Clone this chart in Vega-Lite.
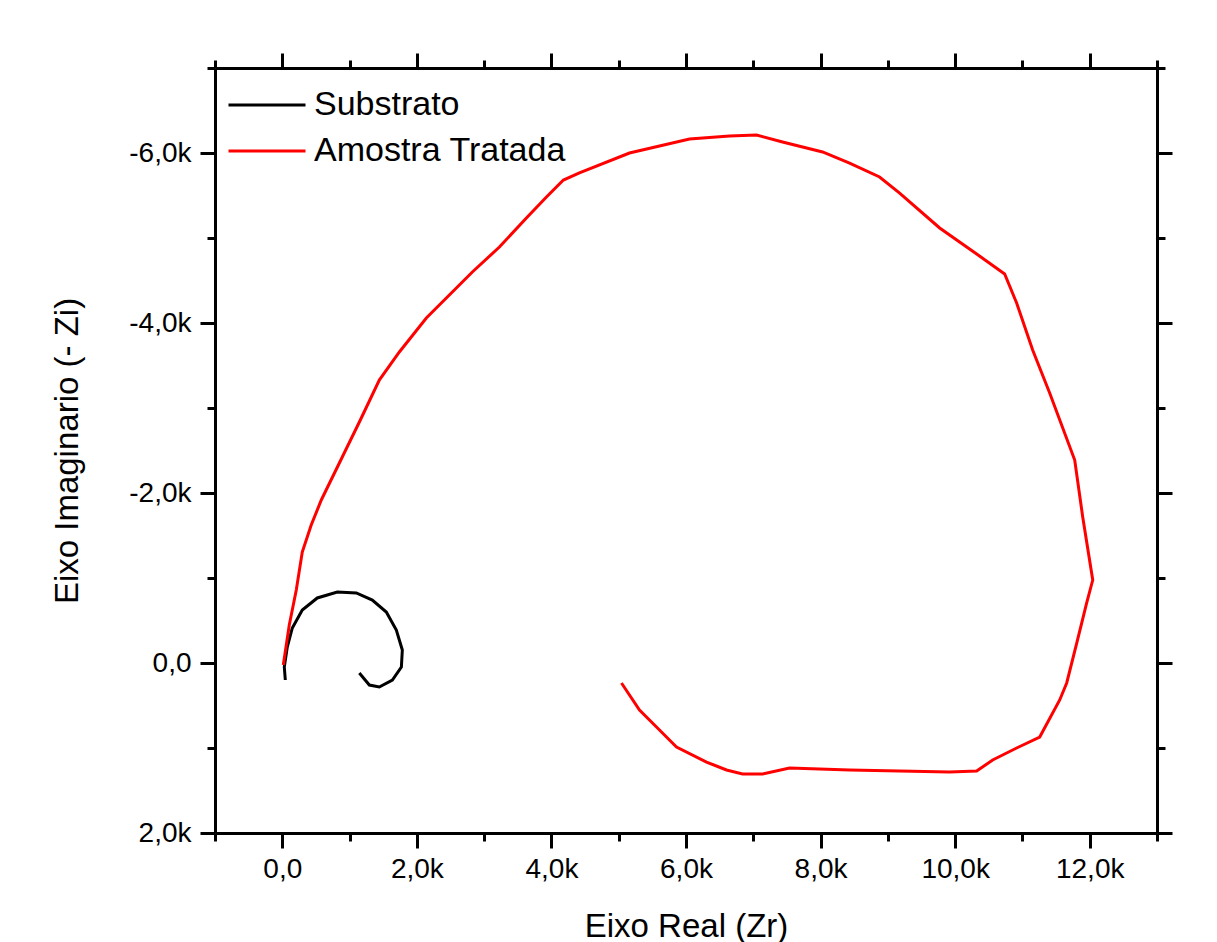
{
  "$schema": "https://vega.github.io/schema/vega-lite/v6.json",
  "autosize": "none",
  "width": 942,
  "height": 765,
  "padding": {"left": 215, "top": 68, "right": 60, "bottom": 109},
  "background": "white",
  "config": {
    "view": {"stroke": null},
    "font": "Liberation Sans",
    "axis": {
      "grid": false,
      "domainColor": "black",
      "domainWidth": 3,
      "tickColor": "black",
      "tickWidth": 3,
      "labelColor": "black",
      "labelFont": "Liberation Sans",
      "labelFontSize": 28,
      "titleFont": "Liberation Sans",
      "titleFontSize": 33,
      "titleFontWeight": "normal",
      "titleColor": "black"
    }
  },
  "data": {
    "values": [
      {"s": "Substrato", "i": 1, "zr": 45, "zi": 200},
      {"s": "Substrato", "i": 2, "zr": 30, "zi": 47},
      {"s": "Substrato", "i": 3, "zr": 74, "zi": -188},
      {"s": "Substrato", "i": 4, "zr": 149, "zi": -412},
      {"s": "Substrato", "i": 5, "zr": 297, "zi": -624},
      {"s": "Substrato", "i": 6, "zr": 520, "zi": -765},
      {"s": "Substrato", "i": 7, "zr": 818, "zi": -835},
      {"s": "Substrato", "i": 8, "zr": 1100, "zi": -824},
      {"s": "Substrato", "i": 9, "zr": 1338, "zi": -741},
      {"s": "Substrato", "i": 10, "zr": 1546, "zi": -600},
      {"s": "Substrato", "i": 11, "zr": 1695, "zi": -388},
      {"s": "Substrato", "i": 12, "zr": 1784, "zi": -153},
      {"s": "Substrato", "i": 13, "zr": 1770, "zi": 47},
      {"s": "Substrato", "i": 14, "zr": 1636, "zi": 200},
      {"s": "Substrato", "i": 15, "zr": 1442, "zi": 282},
      {"s": "Substrato", "i": 16, "zr": 1294, "zi": 259},
      {"s": "Substrato", "i": 17, "zr": 1145, "zi": 118},
      {"s": "Amostra Tratada", "i": 1, "zr": 15, "zi": 24},
      {"s": "Amostra Tratada", "i": 2, "zr": 104, "zi": -447},
      {"s": "Amostra Tratada", "i": 3, "zr": 208, "zi": -859},
      {"s": "Amostra Tratada", "i": 4, "zr": 297, "zi": -1306},
      {"s": "Amostra Tratada", "i": 5, "zr": 430, "zi": -1624},
      {"s": "Amostra Tratada", "i": 6, "zr": 580, "zi": -1918},
      {"s": "Amostra Tratada", "i": 7, "zr": 870, "zi": -2388},
      {"s": "Amostra Tratada", "i": 8, "zr": 1160, "zi": -2859},
      {"s": "Amostra Tratada", "i": 9, "zr": 1442, "zi": -3329},
      {"s": "Amostra Tratada", "i": 10, "zr": 1740, "zi": -3659},
      {"s": "Amostra Tratada", "i": 11, "zr": 2141, "zi": -4059},
      {"s": "Amostra Tratada", "i": 12, "zr": 2825, "zi": -4600},
      {"s": "Amostra Tratada", "i": 13, "zr": 3227, "zi": -4894},
      {"s": "Amostra Tratada", "i": 14, "zr": 3628, "zi": -5235},
      {"s": "Amostra Tratada", "i": 15, "zr": 3926, "zi": -5482},
      {"s": "Amostra Tratada", "i": 16, "zr": 4178, "zi": -5682},
      {"s": "Amostra Tratada", "i": 17, "zr": 4416, "zi": -5765},
      {"s": "Amostra Tratada", "i": 18, "zr": 5160, "zi": -6000},
      {"s": "Amostra Tratada", "i": 19, "zr": 6052, "zi": -6165},
      {"s": "Amostra Tratada", "i": 20, "zr": 6647, "zi": -6200},
      {"s": "Amostra Tratada", "i": 21, "zr": 7048, "zi": -6212},
      {"s": "Amostra Tratada", "i": 22, "zr": 7435, "zi": -6129},
      {"s": "Amostra Tratada", "i": 23, "zr": 8030, "zi": -6012},
      {"s": "Amostra Tratada", "i": 24, "zr": 8431, "zi": -5882},
      {"s": "Amostra Tratada", "i": 25, "zr": 8877, "zi": -5718},
      {"s": "Amostra Tratada", "i": 26, "zr": 9175, "zi": -5529},
      {"s": "Amostra Tratada", "i": 27, "zr": 9770, "zi": -5118},
      {"s": "Amostra Tratada", "i": 28, "zr": 10320, "zi": -4812},
      {"s": "Amostra Tratada", "i": 29, "zr": 10736, "zi": -4576},
      {"s": "Amostra Tratada", "i": 30, "zr": 10914, "zi": -4235},
      {"s": "Amostra Tratada", "i": 31, "zr": 11152, "zi": -3682},
      {"s": "Amostra Tratada", "i": 32, "zr": 11405, "zi": -3176},
      {"s": "Amostra Tratada", "i": 33, "zr": 11777, "zi": -2388},
      {"s": "Amostra Tratada", "i": 34, "zr": 11896, "zi": -1718},
      {"s": "Amostra Tratada", "i": 35, "zr": 12045, "zi": -976},
      {"s": "Amostra Tratada", "i": 36, "zr": 11955, "zi": -706},
      {"s": "Amostra Tratada", "i": 37, "zr": 11807, "zi": -235},
      {"s": "Amostra Tratada", "i": 38, "zr": 11658, "zi": 235},
      {"s": "Amostra Tratada", "i": 39, "zr": 11554, "zi": 435},
      {"s": "Amostra Tratada", "i": 40, "zr": 11257, "zi": 871},
      {"s": "Amostra Tratada", "i": 41, "zr": 10914, "zi": 1000},
      {"s": "Amostra Tratada", "i": 42, "zr": 10558, "zi": 1141},
      {"s": "Amostra Tratada", "i": 43, "zr": 10320, "zi": 1271},
      {"s": "Amostra Tratada", "i": 44, "zr": 9918, "zi": 1282},
      {"s": "Amostra Tratada", "i": 45, "zr": 8431, "zi": 1259},
      {"s": "Amostra Tratada", "i": 46, "zr": 7539, "zi": 1235},
      {"s": "Amostra Tratada", "i": 47, "zr": 7138, "zi": 1306},
      {"s": "Amostra Tratada", "i": 48, "zr": 6840, "zi": 1306},
      {"s": "Amostra Tratada", "i": 49, "zr": 6602, "zi": 1259},
      {"s": "Amostra Tratada", "i": 50, "zr": 6305, "zi": 1165},
      {"s": "Amostra Tratada", "i": 51, "zr": 5859, "zi": 988},
      {"s": "Amostra Tratada", "i": 52, "zr": 5606, "zi": 788},
      {"s": "Amostra Tratada", "i": 53, "zr": 5309, "zi": 553},
      {"s": "Amostra Tratada", "i": 54, "zr": 5041, "zi": 235}
    ]
  },
  "layer": [
    {
      "mark": {"type": "line", "strokeWidth": 3, "clip": true},
      "encoding": {
        "x": {
          "field": "zr", "type": "quantitative",
          "scale": {"domain": [-1000, 13000], "nice": false, "zero": false},
          "axis": {
            "orient": "bottom",
            "title": "Eixo Real (Zr)",
            "values": [-1000, 0, 1000, 2000, 3000, 4000, 5000, 6000, 7000, 8000, 9000, 10000, 11000, 12000, 13000],
            "labelExpr": "datum.value == 0 ? '0,0' : (datum.value % 2000 != 0 ? '' : (datum.value < 0 ? '-' : '') + replace(format(abs(datum.value) / 1000, '.1f'), '.', ',') + 'k')",
            "tickSize": {"condition": {"test": "datum.value % 2000 == 0", "value": 15}, "value": 8},
            "labelPadding": 7,
            "labelFlush": false,
            "labelOverlap": false,
            "titlePadding": 27
          }
        },
        "y": {
          "field": "zi", "type": "quantitative",
          "scale": {"domain": [-7000, 2000], "nice": false, "zero": false, "reverse": true},
          "axis": {
            "orient": "left",
            "title": "Eixo Imaginario (- Zi)",
            "values": [-7000, -6000, -5000, -4000, -3000, -2000, -1000, 0, 1000, 2000],
            "labelExpr": "datum.value == 0 ? '0,0' : (datum.value % 2000 != 0 ? '' : (datum.value < 0 ? '-' : '') + replace(format(abs(datum.value) / 1000, '.1f'), '.', ',') + 'k')",
            "tickSize": {"condition": {"test": "datum.value % 2000 == 0", "value": 15}, "value": 8},
            "labelPadding": 9,
            "labelFlush": false,
            "labelOverlap": false,
            "titlePadding": 44
          }
        },
        "color": {
          "field": "s", "type": "nominal",
          "scale": {"domain": ["Substrato", "Amostra Tratada"], "range": ["#000000", "#ff0000"]},
          "legend": {
            "title": null,
            "orient": "none",
            "legendX": 35,
            "legendY": 20,
            "padding": 0,
            "symbolType": "M-2.5,0H2.5",
            "symbolSize": 949,
            "symbolStrokeWidth": 3,
            "labelFont": "Liberation Sans",
            "labelFontSize": 34,
            "labelColor": "black",
            "labelOffset": 30,
            "rowPadding": 12,
            "labelLimit": 400
          }
        },
        "order": {"field": "i", "type": "quantitative"}
      }
    },
    {
      "mark": {"type": "line", "strokeOpacity": 0},
      "encoding": {
        "x": {
          "field": "zr", "type": "quantitative",
          "axis": {
            "orient": "top",
            "title": null,
            "labels": false,
            "values": [-1000, 0, 1000, 2000, 3000, 4000, 5000, 6000, 7000, 8000, 9000, 10000, 11000, 12000, 13000],
            "tickSize": {"condition": {"test": "datum.value % 2000 == 0", "value": 15}, "value": 8}
          }
        },
        "y": {
          "field": "zi", "type": "quantitative",
          "axis": {
            "orient": "right",
            "title": null,
            "labels": false,
            "values": [-7000, -6000, -5000, -4000, -3000, -2000, -1000, 0, 1000, 2000],
            "tickSize": {"condition": {"test": "datum.value % 2000 == 0", "value": 15}, "value": 8}
          }
        },
        "detail": {"field": "s", "type": "nominal"},
        "order": {"field": "i", "type": "quantitative"}
      }
    }
  ],
  "resolve": {"axis": {"x": "independent", "y": "independent"}}
}
